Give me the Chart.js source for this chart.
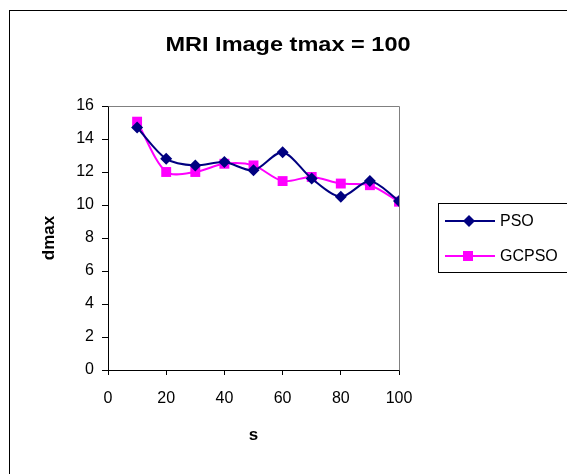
<!DOCTYPE html>
<html>
<head>
<meta charset="utf-8">
<script src="https://cdn.jsdelivr.net/npm/chart.js@4"></script>
<style>
  html, body { margin: 0; padding: 0; background: #fff; }
  #wrap { width: 567px; height: 474px; position: relative; }
</style>
</head>
<body>
<div id="wrap"><canvas id="c" width="567" height="474"></canvas></div>
<script>
const chartTitle = "MRI Image tmax = 100";
const xAxisTitle = "s";
const yAxisTitle = "dmax";
const sValues = [10, 20, 30, 40, 50, 60, 70, 80, 90, 100];
const psoValues = [14.7, 12.8, 12.4, 12.6, 12.1, 13.2, 11.6, 10.5, 11.45, 10.25];
const gcpsoValues = [15.05, 12.0, 12.0, 12.5, 12.4, 11.45, 11.7, 11.3, 11.2, 10.2];
const seriesNames = ["PSO", "GCPSO"];
const seriesColors = ["#000080", "#FF00FF"];
const seriesMarkers = ["rectRot", "rect"];

const FONT = "Arial, 'Liberation Sans', sans-serif";

const decorPlugin = {
  id: 'decor',
  beforeDraw(chart) {
    const ctx = chart.ctx;
    ctx.save();
    ctx.fillStyle = '#fff';
    ctx.fillRect(0, 0, chart.width, chart.height);
    ctx.strokeStyle = '#000';
    ctx.lineWidth = 1;
    ctx.strokeRect(9.5, 10.5, chart.width + 20, chart.height + 20);
    ctx.restore();
  },
  beforeDatasetsDraw(chart) {
    const ctx = chart.ctx;
    const a = chart.chartArea;
    ctx.save();
    ctx.strokeStyle = '#808080';
    ctx.lineWidth = 1;
    ctx.beginPath();
    ctx.moveTo(Math.round(a.left) + 0.5, Math.round(a.top) + 0.5);
    ctx.lineTo(Math.round(a.right) + 0.5, Math.round(a.top) + 0.5);
    ctx.lineTo(Math.round(a.right) + 0.5, Math.round(a.bottom) + 0.5);
    ctx.stroke();
    ctx.restore();
  },
  afterDraw(chart) {
    const ctx = chart.ctx;
    ctx.save();
    ctx.fillStyle = '#000';
    ctx.font = "bold 21px " + FONT;
    ctx.textAlign = 'center';
    ctx.textBaseline = 'middle';
    ctx.translate(288, 45);
    ctx.scale(1.12, 1);
    ctx.fillText(chartTitle, 0, 0);
    ctx.restore();

    ctx.save();
    ctx.strokeStyle = '#000';
    ctx.lineWidth = 1;
    ctx.strokeRect(438.5, 203.5, 200, 69);
    ctx.font = "16px " + FONT;
    ctx.textAlign = 'left';
    chart.data.datasets.forEach((ds, i) => {
      const y = 221 + i * 35;
      ctx.strokeStyle = ds.borderColor;
      ctx.lineWidth = 2;
      ctx.beginPath();
      ctx.moveTo(445, y);
      ctx.lineTo(495, y);
      ctx.stroke();
      ctx.fillStyle = ds.backgroundColor;
      ctx.beginPath();
      if (ds.pointStyle === 'rectRot') {
        ctx.moveTo(469, y - 6); ctx.lineTo(475, y); ctx.lineTo(469, y + 6); ctx.lineTo(463, y);
      } else {
        ctx.rect(463, y - 5, 10, 10);
      }
      ctx.closePath();
      ctx.fill();
      ctx.fillStyle = '#000';
      ctx.textBaseline = 'middle';
      ctx.fillText(ds.label, 500, y + 1);
    });
    ctx.restore();
  }
};

const datasets = seriesNames.map((name, i) => ({
  label: name,
  data: sValues.map((s, j) => ({ x: s, y: (i === 0 ? psoValues : gcpsoValues)[j] })),
  borderColor: seriesColors[i],
  backgroundColor: seriesColors[i],
  pointStyle: seriesMarkers[i],
  pointRadius: i === 0 ? 6 : 7,
  pointHoverRadius: i === 0 ? 6 : 7,
  pointBorderWidth: 0,
  borderWidth: 2,
  tension: 0.3,
  fill: false
}));

new Chart(document.getElementById('c'), {
  type: 'line',
  data: { datasets },
  options: {
    responsive: false,
    animation: false,
    devicePixelRatio: 1,
    layout: { padding: { left: 0, right: 168, top: 106, bottom: 0 } },
    plugins: {
      legend: { display: false },
      title: { display: false },
      tooltip: { enabled: false }
    },
    scales: {
      x: {
        type: 'linear',
        min: 0, max: 100,
        ticks: { stepSize: 20, color: '#000', font: { family: FONT, size: 16 }, padding: 14, maxRotation: 0 },
        grid: { display: true, drawOnChartArea: false, drawTicks: true, tickLength: 5, color: '#000' },
        border: { display: true, color: '#000', width: 1 },
        title: { display: true, text: xAxisTitle, color: '#000', font: { family: FONT, size: 17, weight: 'bold' }, padding: { top: 0, bottom: 28 } },
        afterFit(scale) { scale.height = 104; }
      },
      y: {
        min: 0, max: 16,
        ticks: { stepSize: 2, color: '#000', font: { family: FONT, size: 16 }, padding: 8 },
        grid: { display: true, drawOnChartArea: false, drawTicks: true, tickLength: 6, color: '#000' },
        border: { display: true, color: '#000', width: 1 },
        title: { display: true, text: yAxisTitle, color: '#000', font: { family: FONT, size: 17, weight: 'bold' }, padding: { top: 39, bottom: 0 } },
        afterFit(scale) { scale.width = 108; }
      }
    }
  },
  plugins: [decorPlugin]
});
</script>
</body>
</html>
